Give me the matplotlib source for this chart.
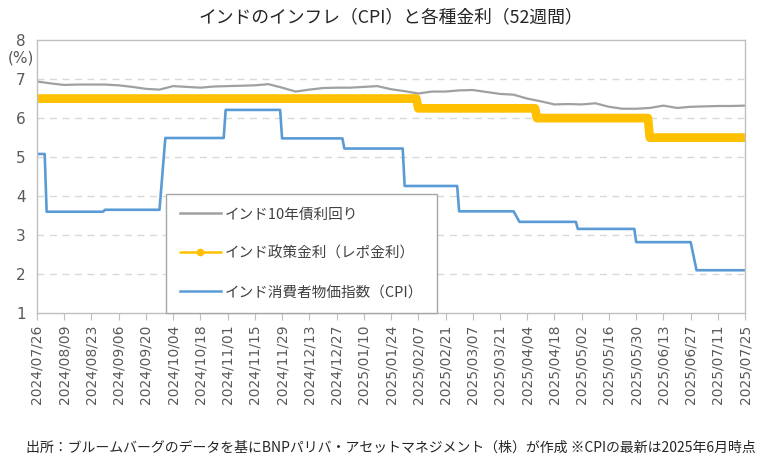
import numpy as np
import pandas as pd
import matplotlib
matplotlib.use('Agg')
import matplotlib.pyplot as plt

plt.rcParams['font.family'] = ['Noto Sans CJK JP', 'DejaVu Sans']

START = '2024-07-26'
END = '2025-07-25'

# 10-year bond yield, read weekly (Fridays) off the chart
bond_dates = pd.date_range(START, END, freq='7D')
bond_yield = [6.94, 6.89, 6.85, 6.86, 6.86, 6.86, 6.84, 6.80, 6.75, 6.73,
              6.82, 6.80, 6.78, 6.81, 6.82, 6.83, 6.84, 6.87, 6.78, 6.68,
              6.73, 6.77, 6.78, 6.78, 6.80, 6.82, 6.74, 6.69, 6.63, 6.68,
              6.68, 6.71, 6.72, 6.67, 6.62, 6.60, 6.50, 6.43, 6.35, 6.36,
              6.35, 6.38, 6.29, 6.24, 6.24, 6.26, 6.32, 6.26, 6.29, 6.30,
              6.31, 6.31, 6.32]

# repo rate decisions
repo_change_dates = ['2024-07-26', '2025-02-07', '2025-04-09', '2025-06-06']
repo_rates = [6.50, 6.25, 6.00, 5.50]

# CPI (YoY), shown from the last business day of each reference month
cpi_change_dates = ['2024-07-26', '2024-07-31', '2024-08-30', '2024-09-30',
                    '2024-10-31', '2024-11-29', '2024-12-31', '2025-01-31',
                    '2025-02-28', '2025-03-31', '2025-04-30', '2025-05-30',
                    '2025-06-30']
cpi_values = [5.08, 3.60, 3.65, 5.49, 6.21, 5.48, 5.22, 4.26, 3.61, 3.34,
              3.16, 2.82, 2.10]

TITLE = 'インドのインフレ（CPI）と各種金利（52週間）'
SOURCE = '出所：ブルームバーグのデータを基にBNPパリバ・アセットマネジメント（株）が作成 ※CPIの最新は2025年6月時点'
LABELS = ['インド10年債利回り', 'インド政策金利（レポ金利）', 'インド消費者物価指数（CPI）']

GRAY = '#a0a0a0'
ORANGE = '#ffc000'
BLUE = '#5b9bd5'
TEXT = '#595959'


def step_series(days, change_dates, values):
    idx = np.searchsorted(pd.to_datetime(change_dates).values, days.values, side='right') - 1
    return np.asarray(values)[idx]


def main() -> None:
    days = pd.bdate_range(START, END)
    repo = step_series(days, repo_change_dates, repo_rates)
    cpi = step_series(days, cpi_change_dates, cpi_values)

    fig = plt.figure(figsize=(7.69, 4.66), dpi=100)
    ax = fig.add_axes([0.048, 0.328, 0.921, 0.586])

    ax.plot(bond_dates, bond_yield, color=GRAY, linewidth=1.6, label=LABELS[0])
    # the original's dense daily markers look like a thick band
    ax.plot(days, repo, color=ORANGE, linewidth=6.3, solid_capstyle='round',
            solid_joinstyle='round', label=LABELS[1])
    ax.plot(days, cpi, color=BLUE, linewidth=1.9, label=LABELS[2])

    ax.set_xlim(pd.Timestamp(START), pd.Timestamp(END))
    ax.set_ylim(1, 8)
    ax.set_yticks(range(1, 9))
    ticks = pd.date_range(START, END, freq='14D')
    ax.set_xticks(ticks)
    ax.set_xticklabels([t.strftime('%Y/%m/%d') for t in ticks], rotation=90,
                       family='DejaVu Sans', fontsize=10, color=TEXT)
    for lbl in ax.get_yticklabels():
        lbl.set_family('DejaVu Sans')
    ax.tick_params(axis='y', length=0, labelsize=11, labelcolor=TEXT, pad=8)
    ax.tick_params(axis='x', length=5, color='#bfbfbf', pad=3)

    for y in range(2, 8):
        ax.axhline(y, color='#d9d9d9', linewidth=1, linestyle=(0, (5, 4)), zorder=0)
    for s in ax.spines.values():
        s.set_color('#bfbfbf')
        s.set_linewidth(1)

    leg = ax.legend(loc='lower left', bbox_to_anchor=(0.182, 0.0), fontsize=10.5,
                    labelspacing=1.7, handlelength=2.8, handletextpad=0.3,
                    borderpad=0.95, borderaxespad=0, fancybox=False,
                    edgecolor='#a6a6a6', framealpha=1)
    leg.get_frame().set_linewidth(1)
    for t in leg.get_texts():
        t.set_color('#404040')
    for h in leg.legend_handles:
        h.set_linewidth(1.8)
    leg.legend_handles[1].set_marker('o')
    leg.legend_handles[1].set_markersize(5.5)
    leg.legend_handles[1].set_markeredgewidth(0)

    fig.text(0.508, 0.963, TITLE, ha='center', va='center', fontsize=12.8, color='#262626')
    fig.text(0.027, 0.875, '(%)', ha='center', va='center', fontsize=11,
             color=TEXT, family='DejaVu Sans')
    fig.text(0.508, 0.04, SOURCE, ha='center', va='center', fontsize=10, color='#262626')

    fig.savefig('out.png', dpi=100)


if __name__ == '__main__':
    main()
